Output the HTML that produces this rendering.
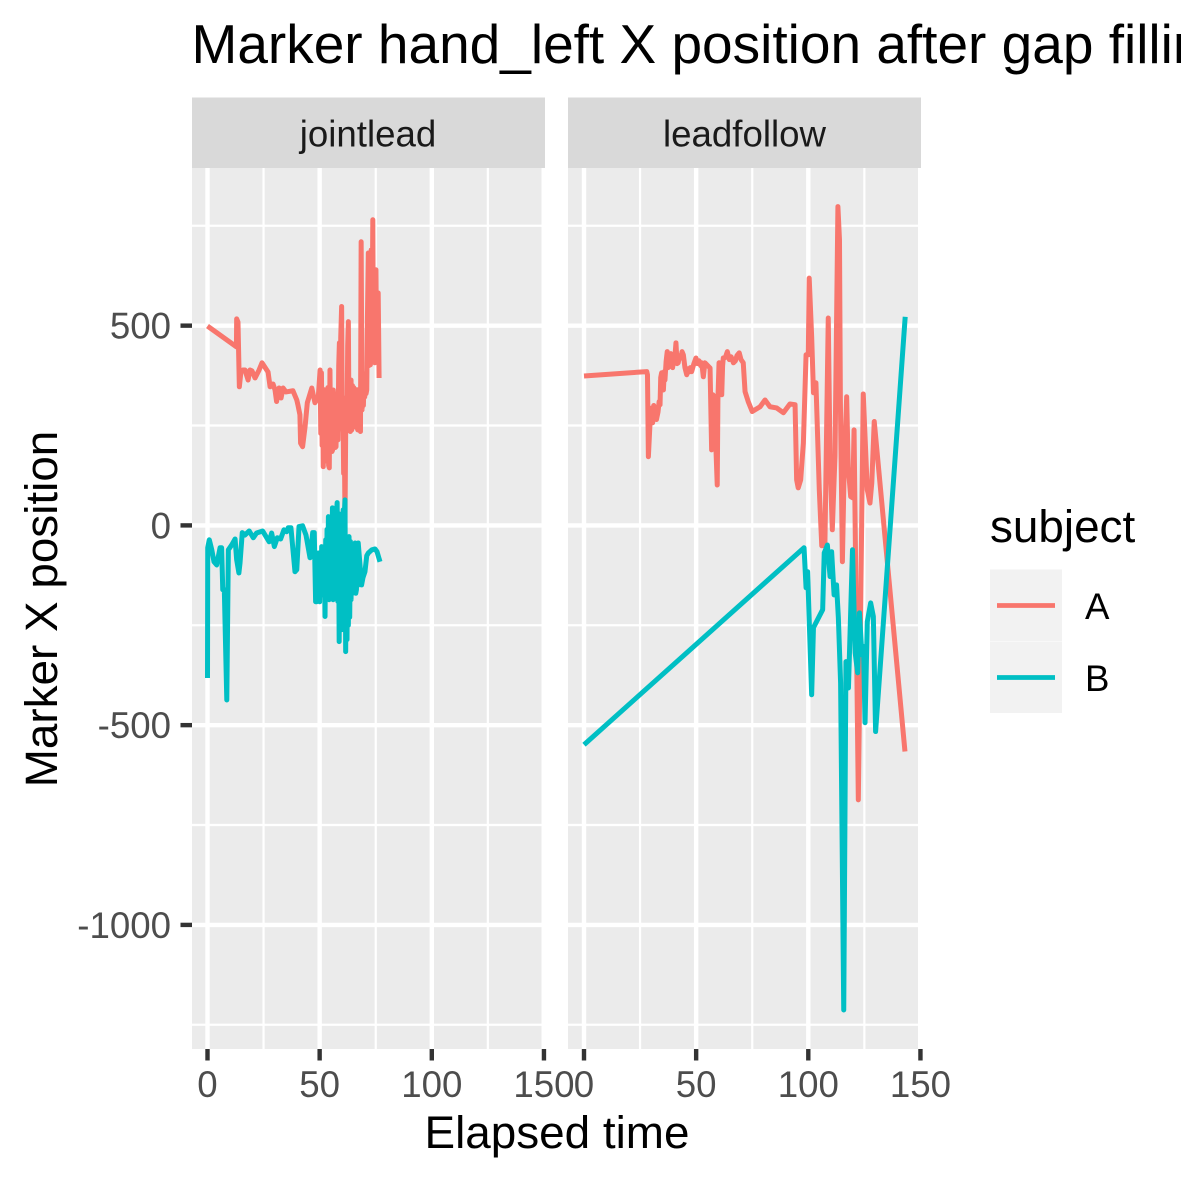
<!DOCTYPE html>
<html>
<head>
<meta charset="utf-8">
<style>
html,body{margin:0;padding:0;background:#fff;width:1181px;height:1181px;overflow:hidden}
svg{display:block;font-family:"Liberation Sans",sans-serif}
</style>
</head>
<body>
<svg id="chart" xmlns="http://www.w3.org/2000/svg" width="1181" height="1181" viewBox="0 0 1181 1181">
  <rect x="0" y="0" width="1181" height="1181" fill="#fff"/>
  <text x="191.5" y="63" font-size="55" fill="#000">Marker hand_left X position after gap filling</text>
  <rect x="192" y="168" width="349.5" height="881" fill="#EBEBEB"/>
  <rect x="568" y="168" width="350" height="881" fill="#EBEBEB"/>
  <g id="grid"></g>
  <rect x="192" y="97.5" width="353" height="70.5" fill="#D9D9D9"/>
  <rect x="568" y="97.5" width="353" height="70.5" fill="#D9D9D9"/>
  <text x="368" y="146.5" font-size="36.67" fill="#1A1A1A" text-anchor="middle">jointlead</text>
  <text x="744.5" y="146.5" font-size="36.67" fill="#1A1A1A" text-anchor="middle">leadfollow</text>
  <g id="axes"></g>
  <g id="series"></g>
  <text x="557" y="1148" font-size="45.83" fill="#000" text-anchor="middle">Elapsed time</text>
  <text transform="translate(57,609) rotate(-90)" font-size="45.83" fill="#000" text-anchor="middle">Marker X position</text>
  <g>
    <text x="990" y="542" font-size="45.83" fill="#000">subject</text>
    <rect x="990" y="569.5" width="72" height="71.5" fill="#F2F2F2"/>
    <rect x="990" y="641.5" width="72" height="71.5" fill="#F2F2F2"/>
    <line x1="997" x2="1055" y1="605.5" y2="605.5" stroke="#F8766D" stroke-width="4.7"/>
    <line x1="997" x2="1055" y1="677.5" y2="677.5" stroke="#00BFC4" stroke-width="4.7"/>
    <text x="1085" y="619" font-size="36.67" fill="#000">A</text>
    <text x="1085" y="691" font-size="36.67" fill="#000">B</text>
  </g>
</svg>
<script>
// Tick values
const xTicks = [0, 50, 100, 150];
const xMinorTicks = [25, 75, 125];
const yTicks = [500, 0, -500, -1000];
const yMinorTicks = [750, 250, -250, -750, -1250];
const facets = ['jointlead', 'leadfollow'];
const subjects = ['A', 'B'];

// jointlead, subject A
const jointleadATime = [
  0,12.9,13,13.6,14.2,14.9,15.8,16.7,18.1,18.9,
  19.8,21.2,23,24.3,26.4,27,27.9,29.2,30.1,30.8,
  31.9,32.8,33.7,35,38.1,39.8,40.3,41.2,41.5,42.4,
  43.5,44.5,46.5,47.9,49.4,
  50.2,50.5,50.8,51.1,51.4,51.6,51.9,52.2,52.5,52.8,
  53.1,53.4,53.7,54,54.3,54.6,54.9,55.2,55.5,55.8,
  56.1,56.4,56.7,57,57.3,57.6,57.9,58.2,58.5,58.8,
  59.1,59.4,59.8,60.1,60.4,60.7,61,61.3,61.6,61.9,
  62.2,62.5,62.8,63.1,63.4,63.7,64,64.3,64.6,64.9,
  65.2,65.5,65.8,66.1,66.4,66.7,67,67.3,67.6,67.9,
  68.2,68.5,68.9,69.2,69.5,69.8,70.1,70.4,70.7,71,
  71.3,71.7,72,72.3,72.6,72.8,73,73.3,73.7,74,
  74.3,74.6,74.9,75.1,75.4,75.7,76.1,76.3,76.5];
const jointleadAValue = [
  499,447,517,509,347,384,389,389,364,389,
  387,369,389,407,389,384,347,354,339,310,
  344,319,344,334,337,314,302,277,206,197,
  247,307,344,307,322,
  389,230,382,200,330,147,340,170,335,190,
  340,160,345,150,144,389,190,335,185,189,
  339,200,330,195,197,310,314,214,400,457,
  250,470,548,240,289,130,220,14,230,320,
  240,450,510,250,330,235,364,239,350,245,
  345,250,264,340,322,245,239,340,250,330,
  235,710,289,350,300,364,322,380,330,339,
  520,682,400,560,402,600,690,420,765,410,
  560,407,600,640,430,414,582,480,369];

// jointlead, subject B
const jointleadBTime = [
  0,0.1,0.8,1.9,2.9,4.1,5.6,6.3,6.8,7.5,
  8.6,9.3,10.8,12.3,13,14,14.5,15.5,16.7,18.6,
  20.4,21.9,24.6,26.4,27.5,28.6,29.8,31.1,32.6,34.1,
  35.3,36,37.2,39,39.8,40.8,42.4,43.9,45.7,46.9,
  47.6,
  48.2,48.7,49,49.4,49.7,50,50.3,50.6,50.9,51.2,
  51.5,51.8,52.1,52.4,52.7,53,53.3,53.6,53.9,54.2,
  54.5,54.8,55.1,55.4,55.7,56,56.3,56.6,56.9,57.2,
  57.5,57.8,58.1,58.4,58.7,59,59.3,59.6,59.9,60.2,
  60.5,60.8,61.1,61.3,61.6,61.9,62.2,62.5,62.8,63.1,
  63.4,63.7,64,64.3,64.6,64.9,65.2,65.5,65.8,66.1,
  66.4,66.7,67,67.2,67.8,68.7,69.3,70.2,71,71.7,
  73.3,74.7,75.6,76.9];
const jointleadBValue = [
  -382,-56,-36,-61,-91,-99,-56,-56,-161,-161,
  -437,-61,-49,-34,-86,-119,-94,-18,-24,-14,
  -31,-19,-14,-31,-41,-19,-53,-31,-34,-11,
  -16,-6,-6,-116,-111,-3,-1,-24,-81,-18,
  -18,
  -191,-191,-100,-69,-170,-191,-80,-160,-53,-165,
  -70,-175,-60,-228,-36,-180,-10,-170,22,-186,
  -5,-180,-10,-174,44,-186,10,-180,14,-161,
  30,57,-190,30,-291,-20,-200,-30,-261,-40,
  39,-236,40,64,-316,-60,-286,-36,-250,-28,
  -230,-40,-186,-49,-170,-50,-161,-60,-44,-170,
  -161,-60,-150,-44,-86,-149,-131,-116,-76,-69,
  -61,-59,-66,-91];

// leadfollow, subject A
const leadfollowATime = [
  0,28,28.3,28.7,29.4,30.2,30.6,31.1,31.7,32.3,
  33,33.5,33.9,34.2,34.6,35,35.4,35.8,36.1,36.6,
  37.1,37.5,38.3,38.7,39.1,39.5,39.8,40.5,41,41.5,
  42,42.6,43.2,43.7,44.3,45,45.8,46.3,46.8,47.4,
  48,49,49.9,50.5,51.3,52,52.5,53.2,53.9,56.2,
  56.9,57.5,58,59.4,59.7,60.2,60.8,61.4,61.8,62.1,
  63,63.9,64.8,65.6,66.6,67.5,68.2,69.2,70,71,
  71.8,73.2,75,78.5,80.7,82.9,85.9,88.9,91.8,94.1,
  94.8,95.5,96.6,97.8,99,100,100.4,101.5,102.3,103.4,
  104.9,106,107.4,108.9,109.7,110.7,111.9,113.2,113.9,114.3,
  115.2,115.9,117.1,117.8,118.9,119.8,120.4,122.3,124.5,126.3,
  127.5,128.3,129.4,143.1];
const leadfollowAValue = [
  374,385,377,172,252,294,257,300,289,265,
  284,310,302,370,382,340,339,385,364,410,
  435,395,407,430,427,395,407,420,457,405,
  407,425,419,435,427,395,377,392,384,395,
  385,405,419,405,412,400,407,372,407,394,
  189,327,322,101,314,407,340,327,400,419,
  420,435,415,422,407,412,425,432,415,407,
  335,310,285,297,314,297,294,282,304,302,
  114,94,114,206,427,427,619,473,332,357,
  89,-51,-49,519,164,-11,174,798,715,314,
  -91,114,322,146,72,69,239,-687,329,89,
  56,106,260,-566];

// leadfollow, subject B
const leadfollowBTime = [0,98.1,99,99.7,101.5,102.3,106.4,107.1,108.5,109.7,110.4,111.5,112.6,113.4,114.4,115.8,116.7,116.8,117.8,117.9,119.7,120.9,122,122.8,123.9,124.6,125.3,126.3,127.8,129,130,143.2];
const leadfollowBValue = [-549,-56,-156,-116,-424,-256,-211,-69,-49,-128,-66,-174,-149,-231,-394,-1213,-412,-341,-341,-407,-61,-319,-369,-219,-324,-303,-494,-241,-194,-228,-516,522];

const NS = 'http://www.w3.org/2000/svg';
const panelLeft = [192, 568];
const panelRight = [541.5, 918];
const xZero = [207.5, 584];
const xUnit = 2.243;
const yZero = 525.4;
const yUnit = 0.3995;
const panelTop = 168;
const panelBottom = 1049;

function xScale(facetIndex, t) { return xZero[facetIndex] + t * xUnit; }
function yScale(v) { return yZero - v * yUnit; }

function make(tag, attrs, parent) {
  const el = document.createElementNS(NS, tag);
  for (const k in attrs) el.setAttribute(k, attrs[k]);
  parent.appendChild(el);
  return el;
}

const grid = document.getElementById('grid');
const axes = document.getElementById('axes');
const seriesLayer = document.getElementById('series');

facets.forEach(function (facet, i) {
  xMinorTicks.forEach(function (t) {
    const el = make('line', {x1: xScale(i, t), x2: xScale(i, t), y1: panelTop, y2: panelBottom, stroke: '#fff', 'stroke-width': 2.2}, grid);
    
    
  });
  yMinorTicks.forEach(function (v) {
    const el = make('line', {x1: panelLeft[i], x2: panelRight[i], y1: yScale(v), y2: yScale(v), stroke: '#fff', 'stroke-width': 2.2}, grid);
    
    
  });
  xTicks.forEach(function (t) {
    if (xScale(i, t) < panelRight[i]) {
      const el = make('line', {x1: xScale(i, t), x2: xScale(i, t), y1: panelTop, y2: panelBottom, stroke: '#fff', 'stroke-width': 4.4}, grid);
      
      
    }
    const tick = make('line', {x1: xScale(i, t), x2: xScale(i, t), y1: panelBottom, y2: panelBottom + 11.5, stroke: '#333', 'stroke-width': 4.4}, axes);
    
    
    const label = make('text', {x: xScale(i, t), y: 1097, 'font-size': 36.67, fill: '#4D4D4D', 'text-anchor': 'middle'}, axes);
    
    
    label.textContent = String(t);
  });
  yTicks.forEach(function (v) {
    const el = make('line', {x1: panelLeft[i], x2: panelRight[i], y1: yScale(v), y2: yScale(v), stroke: '#fff', 'stroke-width': 4.4}, grid);
    
    
  });
});

yTicks.forEach(function (v) {
  const tick = make('line', {x1: 180.5, x2: 192, y1: yScale(v), y2: yScale(v), stroke: '#333', 'stroke-width': 4.4}, axes);
  
  
  const label = make('text', {x: 171, y: yScale(v) + 13, 'font-size': 36.67, fill: '#4D4D4D', 'text-anchor': 'end'}, axes);
  
  
  label.textContent = String(v);
});

function drawSeries(facetIndex, times, values, colour) {
  const pts = times.map(function (t, j) {
    return xScale(facetIndex, t).toFixed(2) + ',' + yScale(values[j]).toFixed(2);
  }).join(' ');
  return make('polyline', {points: pts, fill: 'none', stroke: colour, 'stroke-width': 5, 'stroke-linejoin': 'round', 'stroke-linecap': 'butt'}, seriesLayer);
}

const lineJointA = drawSeries(0, jointleadATime, jointleadAValue, '#F8766D');


const lineJointB = drawSeries(0, jointleadBTime, jointleadBValue, '#00BFC4');


const lineLeadA = drawSeries(1, leadfollowATime, leadfollowAValue, '#F8766D');


const lineLeadB = drawSeries(1, leadfollowBTime, leadfollowBValue, '#00BFC4');


</script>
</body>
</html>
